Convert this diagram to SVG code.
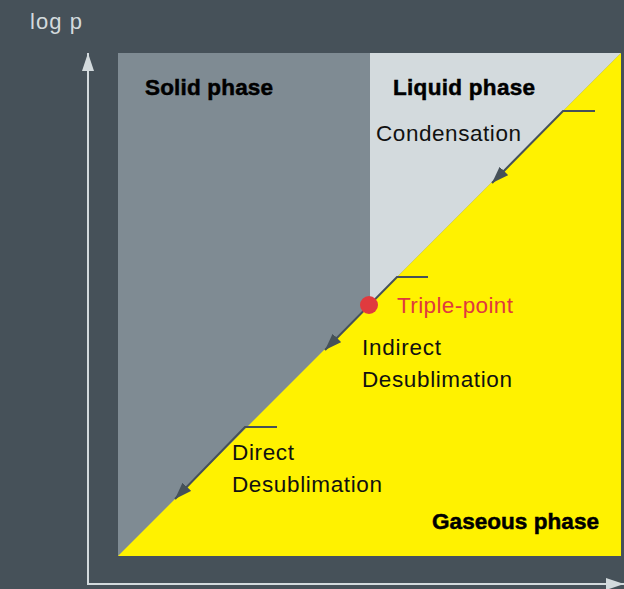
<svg xmlns="http://www.w3.org/2000/svg" width="624" height="589" viewBox="0 0 624 589">
<defs>
<style>
.lbl{font-family:"Liberation Sans",Arial,sans-serif;font-size:22.5px;fill:#111}
.bold{font-family:"Liberation Sans",Arial,sans-serif;font-size:22.5px;font-weight:bold;fill:#000;stroke:#000;stroke-width:0.5}
.ax{stroke:#d3dadd;stroke-width:2;fill:none}
.arr{stroke:#465159;stroke-width:2;fill:none}
</style>
<marker id="ah" viewBox="0 0 10 10" refX="10" refY="5" markerWidth="17" markerHeight="12" orient="auto" markerUnits="userSpaceOnUse" preserveAspectRatio="none">
<path d="M0,0 L10,5 L0,10 z" fill="#465159"/>
</marker>
<marker id="axh" viewBox="0 0 10 10" refX="10" refY="5" markerWidth="18" markerHeight="12" orient="auto" markerUnits="userSpaceOnUse" preserveAspectRatio="none">
<path d="M0,0 L10,5 L0,10 z" fill="#d3dadd"/>
</marker>
</defs>
<rect width="624" height="589" fill="#465159"/>
<g id="regions">
<rect id="solid-region" x="118" y="53" width="503" height="503" fill="#7f8b93"/>
<polygon id="liquid-region" points="370,53 621,53 370,304" fill="#d3dadd"/>
<polygon id="gas-region" points="118,556 621,53 621,556" fill="#fff200"/>
</g>
<g id="axes">
<line class="ax" x1="88" y1="584" x2="88" y2="53" marker-end="url(#axh)"/>
<line class="ax" x1="87" y1="584" x2="624" y2="584" marker-end="url(#axh)"/>
<text x="30" y="29" textLength="52" style="font-family:'Liberation Sans',Arial,sans-serif;font-size:22px;fill:#d3dadd">log p</text>
</g>
<g id="connectors">
<polyline class="arr" points="595,111 563,111 492,183" marker-end="url(#ah)"/>
<polyline class="arr" points="428,277 397,277 325,350" marker-end="url(#ah)"/>
<polyline class="arr" points="277,427 245,427 175,499" marker-end="url(#ah)"/>
</g>
<g id="solid-phase"><text class="bold" x="145" y="95" textLength="128">Solid phase</text></g>
<g id="liquid-phase"><text class="bold" x="393" y="95" textLength="142">Liquid phase</text></g>
<g id="gaseous-phase"><text class="bold" x="432" y="529" textLength="167">Gaseous phase</text></g>
<g id="condensation"><text class="lbl" x="376" y="141" textLength="145">Condensation</text></g>
<g id="triple-point">
<circle cx="369" cy="305" r="9" fill="#e03a3e"/>
<text x="397" y="313" textLength="116" style="font-family:'Liberation Sans',Arial,sans-serif;font-size:22.5px;fill:#e03a3e">Triple-point</text>
</g>
<g id="indirect-desublimation"><text class="lbl" x="362" y="355" textLength="79">Indirect</text><text class="lbl" x="362" y="387" textLength="150">Desublimation</text></g>
<g id="direct-desublimation"><text class="lbl" x="232" y="460" textLength="62">Direct</text><text class="lbl" x="232" y="492" textLength="150">Desublimation</text></g>
</svg>
